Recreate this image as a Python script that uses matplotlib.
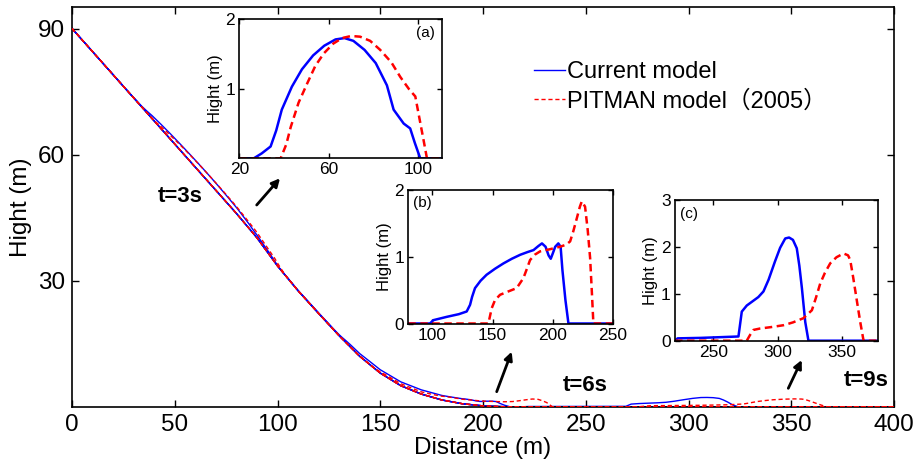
import numpy as np
import matplotlib
matplotlib.use('Agg')
import matplotlib.pyplot as plt

plt.rcParams['font.family'] = ['Liberation Sans', 'Noto Sans CJK SC', 'DejaVu Sans']

W, H = 917, 461

# ---------------- data ----------------
# slope (terrain) profile, main panel
terrain_x = [0, 20, 40, 60, 80, 90, 100, 110, 120, 130, 140, 150, 160, 170, 180, 190, 200, 210, 400]
terrain_y = [90, 79, 68, 57, 46, 40.2, 33.5, 27.6, 22.2, 16.9, 12.0, 8.0, 5.0, 3.0, 1.6, 0.7, 0.2, 0, 0]

# (a) t=3s flow height
a_blue_x = [20, 26.5, 30, 34, 36.5, 39, 43.5, 48, 53, 58, 63, 67, 71, 76, 81, 86, 89, 93.5, 96.4, 98.5, 100.9, 111]
a_blue_y = [0, 0, 0.07, 0.17, 0.40, 0.70, 1.03, 1.28, 1.48, 1.62, 1.71, 1.73, 1.69, 1.56, 1.37, 1.05, 0.70, 0.50, 0.43, 0.22, 0, 0]
a_red_x = [20, 38.5, 41, 43, 46.5, 50.4, 54, 57.8, 62, 66, 70, 74, 78.5, 83, 88, 92, 96, 98.7, 100.1, 102.4, 103.9, 111]
a_red_y = [0, 0, 0.2, 0.45, 0.80, 1.08, 1.33, 1.51, 1.65, 1.73, 1.76, 1.75, 1.69, 1.56, 1.38, 1.17, 0.99, 0.89, 0.65, 0.26, 0, 0]

# (b) t=6s flow height
b_blue_x = [80, 98, 100.8, 112, 122, 128.5, 131.3, 133, 135.4, 140, 145, 152, 159, 166, 173, 179, 184, 188, 191, 194,
            196.5, 198.3, 200, 202, 204.6, 206.5, 208, 210.5, 213, 250]
b_blue_y = [0, 0, 0.05, 0.10, 0.14, 0.18, 0.28, 0.40, 0.53, 0.64, 0.73, 0.82, 0.90, 0.97, 1.03, 1.07, 1.10, 1.16, 1.20, 1.15,
            1.02, 0.97, 1.05, 1.15, 1.20, 1.15, 0.80, 0.35, 0, 0]
b_red_x = [80, 146.5, 149.3, 152, 156.2, 163, 170, 175.6, 178.5, 181.1, 185, 189.4, 197, 206, 211, 214.4, 217, 220,
           222.5, 224.1, 226.8, 229, 231, 232.5, 233.7, 250]
b_red_y = [0, 0, 0.23, 0.35, 0.43, 0.48, 0.53, 0.68, 0.82, 0.95, 1.03, 1.08, 1.11, 1.15, 1.18, 1.23, 1.38, 1.58,
           1.75, 1.83, 1.75, 1.40, 0.98, 0.45, 0, 0]

# (c) t=9s flow height
c_blue_x = [220, 222, 240, 260, 269.5, 272.1, 276, 280, 285, 289, 293, 298, 302, 306, 309, 312, 315, 317, 319, 321.6, 324.1, 380]
c_blue_y = [0, 0.05, 0.06, 0.08, 0.09, 0.62, 0.75, 0.83, 0.93, 1.05, 1.30, 1.69, 1.98, 2.18, 2.20, 2.15, 1.97, 1.60, 1.12, 0.40, 0, 0]
c_red_x = [220, 276, 278.5, 281.2, 286.4, 295, 304.6, 312, 320.2, 326.8, 330, 333.3, 337, 341.1, 346, 351.5, 355,
           356.7, 359, 362, 364.5, 367.1, 380]
c_red_y = [0, 0, 0.12, 0.23, 0.26, 0.29, 0.33, 0.39, 0.48, 0.65, 0.92, 1.22, 1.45, 1.65, 1.78, 1.86, 1.82,
           1.72, 1.35, 0.83, 0.40, 0, 0]

main_xticks = [0, 50, 100, 150, 200, 250, 300, 350, 400]
main_yticks = [30, 60, 90]
labels = ['Current model', 'PITMAN model（2005）']
time_labels = ['t=3s', 't=6s', 't=9s']

BLUE = '#0000ff'
RED = '#ff0000'

fig = plt.figure(figsize=(W / 100, H / 100), dpi=100)


def fx(px):
    return px / W


def fy(py):
    return 1 - py / H


def surface(fxs, fys):
    xs = np.unique(np.concatenate([terrain_x, fxs]))
    return xs, np.interp(xs, terrain_x, terrain_y) + np.interp(xs, fxs, fys, left=0, right=0)


# ---------------- main axes ----------------
ax = fig.add_axes([fx(72), fy(406.7), fx(894) - fx(72), fy(7.5) - fy(406.7)])
ax.plot(terrain_x, terrain_y, color='k', lw=1.0, zorder=1)
for (bx, by, rx, ry) in [(a_blue_x, a_blue_y, a_red_x, a_red_y),
                         (b_blue_x, b_blue_y, b_red_x, b_red_y),
                         (c_blue_x, c_blue_y, c_red_x, c_red_y)]:
    xs, ys = surface(bx, by)
    ax.plot(xs, ys, color=BLUE, lw=1.0, zorder=2)
    xs, ys = surface(rx, ry)
    ax.plot(xs, ys, color=RED, lw=1.0, ls=(0, (3, 2)), zorder=3)

ax.set_xlim(0, 400)
ax.set_ylim(0, 95)
ax.set_xticks(main_xticks)
ax.set_yticks(main_yticks)
ax.tick_params(direction='in', length=5, width=1, labelsize=17.5, top=True, right=True, pad=5)
for s in ax.spines.values():
    s.set_linewidth(1.2)
ax.set_xlabel('Distance (m)', fontsize=17.5, labelpad=1)
ax.set_ylabel('Hight (m)', fontsize=17.5, labelpad=4)

# legend
h1, = ax.plot([], [], color=BLUE, lw=1.0)
h2, = ax.plot([], [], color=RED, lw=1.0, ls=(0, (3, 2)))
ax.legend([h1, h2], labels, loc='upper left', bbox_to_anchor=(fx(534), fy(61)),
          bbox_transform=fig.transFigure, frameon=False, fontsize=17,
          handlelength=1.3, handletextpad=0.1, labelspacing=0.3, borderpad=0, borderaxespad=0)

# time labels
fig.text(fx(180), fy(196), time_labels[0], fontsize=16, fontweight='bold', ha='center', va='center')
fig.text(fx(585), fy(385), time_labels[1], fontsize=16, fontweight='bold', ha='center', va='center')
fig.text(fx(866), fy(380), time_labels[2], fontsize=16, fontweight='bold', ha='center', va='center')

# arrows
for tail, head in [((256.7, 205), (280, 178.3)),
                   ((496.7, 391.7), (511.7, 351.7)),
                   ((788.3, 388.3), (801.7, 360))]:
    ax.annotate('', xy=(fx(head[0]), fy(head[1])), xytext=(fx(tail[0]), fy(tail[1])),
                xycoords='figure fraction', textcoords='figure fraction',
                arrowprops=dict(arrowstyle='-|>', color='k', lw=2, mutation_scale=12,
                                shrinkA=0, shrinkB=0))


def inset(box, xlim, ylim, xticks, yticks, bx, by, rx, ry, tag, tagpos):
    l, t, r, b = box
    ia = fig.add_axes([fx(l), fy(b), fx(r) - fx(l), fy(t) - fy(b)], zorder=5)
    ia.set_facecolor('white')
    ia.plot(bx, by, color=BLUE, lw=1.8)
    ia.plot(rx, ry, color=RED, lw=1.8, ls=(0, (3, 1.8)))
    ia.set_xlim(*xlim)
    ia.set_ylim(*ylim)
    ia.set_xticks(xticks)
    ia.set_yticks(yticks)
    ia.tick_params(direction='in', length=3.5, width=1, labelsize=12.5, top=True, right=True, pad=3)
    for s in ia.spines.values():
        s.set_linewidth(1.2)
    ia.set_ylabel('Hight (m)', fontsize=12, labelpad=2)
    ia.text(tagpos[0], tagpos[1], tag, transform=ia.transAxes, fontsize=11,
            ha='center', va='center')
    return ia


inset((239.3, 19.3, 441.7, 158.3), (20, 110.5), (0, 2), [20, 60, 100], [1, 2],
      a_blue_x, a_blue_y, a_red_x, a_red_y, '(a)', (0.92, 0.9))
inset((408.3, 190, 613, 323.5), (80, 250), (0, 2), [100, 150, 200, 250], [0, 1, 2],
      b_blue_x, b_blue_y, b_red_x, b_red_y, '(b)', (0.07, 0.9))
inset((675, 200, 878.3, 340.7), (220, 378.6), (0, 3), [250, 300, 350], [0, 1, 2, 3],
      c_blue_x, c_blue_y, c_red_x, c_red_y, '(c)', (0.07, 0.9))

fig.savefig('out.png', dpi=100)
